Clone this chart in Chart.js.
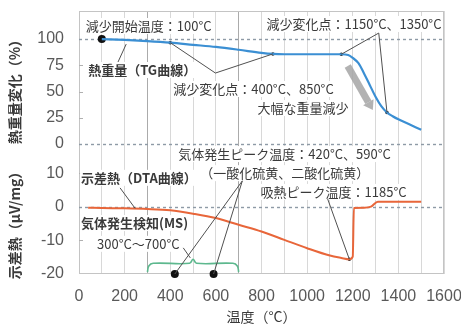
<!DOCTYPE html>
<html>
<head>
<meta charset="utf-8">
<script src="https://cdn.jsdelivr.net/npm/chart.js@4.4.1/dist/chart.umd.min.js"></script>
<style>
  html, body { margin: 0; padding: 0; background: #fff; }
  #wrap { width: 461px; height: 325px; }
</style>
</head>
<body>
<div id="wrap"><canvas id="c" width="461" height="325"></canvas></div>
<script>
const FONT = '"Noto Sans CJK JP", "Noto Sans", sans-serif';
const NUM_FONT = '"Liberation Sans", Arial, sans-serif';

// Thermogravimetry: weight change (%) vs temperature (°C)
const tgTemps  = [100, 200, 300, 400, 500, 600, 700, 800, 850, 900, 1000, 1100, 1150, 1180, 1200, 1225, 1250, 1275, 1300, 1325, 1350, 1375, 1400, 1450, 1500];
const tgValues = [100, 99.2, 98.0, 96.5, 94.5, 92.5, 89.8, 86.8, 85.8, 85.5, 85.5, 85.5, 85.5, 84.8, 82.0, 77.0, 67.0, 56.0, 45.0, 36.0, 30.0, 26.5, 23.5, 18.5, 13.5];

// Differential thermal analysis (µV/mg) vs temperature (°C)
const dtaTemps  = [40, 100, 200, 300, 400, 500, 600, 700, 800, 900, 1000, 1100, 1150, 1185, 1200, 1205, 1250, 1280, 1310, 1400, 1500];
const dtaValues = [-0.2, -0.3, -0.4, -0.6, -1.0, -2.0, -3.3, -5.3, -7.3, -9.8, -12.3, -14.5, -15.2, -15.6, -14.8, -0.3, -0.2, 0.1, 1.6, 1.6, 1.6];

// Gas detection range (MS) bracket, 300–700 °C, in DTA units
const msTemps  = [300, 306, 325, 485, 500, 515, 675, 694, 700];
const msValues = [-19.4, -17.6, -16.8, -16.8, -15.6, -16.8, -16.8, -17.6, -19.4];

// Marked temperatures
const onsetTemp = [100];
const tgChangeTemps = [400, 850, 1150, 1350];
const gasPeakTemps = [420, 590];
const gasPeakLevel = [-20, -20];
const endoPeakTemp = [1185];

// Axis ticks
const xTicks = [0, 200, 400, 600, 800, 1000, 1200, 1400, 1600];
const tgTicks = [0, 25, 50, 75, 100];
const dtaTicks = [-20, -10, 0, 10];

const tgAt = t => tgValues[tgTemps.indexOf(t)];
const dtaAt = t => dtaValues[dtaTemps.indexOf(t)];
const pts = (xs, ys) => xs.map((x, i) => ({ x, y: ys[i] }));

// Annotation labels, placed in data units of the given axis
const labels = [
  { axis: 'yTG',  x: 30,  y: 112.4, text: '減少開始温度：100°C' },
  { axis: 'yTG',  x: 40,  y: 70.5,  text: '熱重量（TG曲線）', bold: true },
  { axis: 'yTG',  x: 413, y: 52.4,  text: '減少変化点：400°C、850°C' },
  { axis: 'yTG',  x: 822, y: 114.3, text: '減少変化点：1150°C、1350°C' },
  { axis: 'yTG',  x: 782, y: 34.3,  text: '大幅な重量減少' },
  { axis: 'yDTA', x: 435, y: 15.8,  text: '気体発生ピーク温度：420°C、590°C' },
  { axis: 'yDTA', x: 532, y: 10.1,  text: '（一酸化硫黄、二酸化硫黄）' },
  { axis: 'yDTA', x: 796, y: 4.5,   text: '吸熱ピーク温度：1185°C' },
  { axis: 'yDTA', x: 9,   y: 8.7,   text: '示差熱（DTA曲線）', bold: true },
  { axis: 'yDTA', x: 9,   y: -4.8,  text: '気体発生検知(MS)', bold: true },
  { axis: 'yDTA', x: 79,  y: -11,   text: '300°C～700°C' }
];

// Leader lines: polyline in data units
const leaders = [
  { axis: 'yTG',  path: [[171, 78.1], [207, 95.2]] },
  { axis: 'yTG',  path: [[400, tgAt(400)], [598, 67.6], [850, tgAt(850)]] },
  { axis: 'yTG',  path: [[1150, tgAt(1150)], [1314, 105.7], [1350, tgAt(1350)]] },
  { axis: 'yDTA', path: [[gasPeakTemps[0], gasPeakLevel[0]], [716, 7.8], [gasPeakTemps[1], gasPeakLevel[1]]] },
  { axis: 'yDTA', path: [[1090, 2.4], [1185, dtaAt(1185)]] },
  { axis: 'yDTA', path: [[180, 5.7], [246, -0.4]] },
  { axis: 'yDTA', path: [[457, -12.2], [488, -15.2]] }
];

// Broad arrow marking the large weight loss
const lossArrow = { axis: 'yTG', from: [1178, 74.3], to: [1288, 32.4] };

function fontOf(l) { return (l.bold ? 'bold ' : '') + '13px ' + FONT; }

const annotate = {
  id: 'annotate',
  beforeDatasetsDraw(chart) {
    const { ctx, chartArea: a, scales } = chart;
    ctx.save();
    // plot frame
    ctx.strokeStyle = '#c4c4c4';
    ctx.lineWidth = 1;
    ctx.strokeRect(a.left + 0.5, a.top + 0.5, a.right - a.left - 1, a.bottom - a.top - 1);
    // dashed reference lines
    ctx.strokeStyle = '#8e9aa6';
    ctx.lineWidth = 1.4;
    ctx.setLineDash([3, 3]);
    [[scales.yTG, 100], [scales.yTG, 0], [scales.yDTA, 0]].forEach(([s, v]) => {
      const y = Math.round(s.getPixelForValue(v)) + 0.5;
      ctx.beginPath(); ctx.moveTo(a.left, y); ctx.lineTo(a.right, y); ctx.stroke();
    });
    ctx.setLineDash([]);
    // short tick marks on the left edge
    ctx.strokeStyle = '#b0b0b0';
    ctx.lineWidth = 1;
    [[scales.yTG, [25, 50, 75]], [scales.yDTA, [-10, 10]]].forEach(([s, vs]) => {
      vs.forEach(v => {
        const y = Math.round(s.getPixelForValue(v)) + 0.5;
        ctx.beginPath(); ctx.moveTo(a.left, y); ctx.lineTo(a.left + 4, y); ctx.stroke();
      });
    });
    // white backing behind labels
    ctx.fillStyle = '#fff';
    labels.forEach(l => {
      ctx.font = fontOf(l);
      const x = scales.x.getPixelForValue(l.x);
      const y = scales[l.axis].getPixelForValue(l.y);
      const w = ctx.measureText(l.text).width;
      ctx.fillRect(x - 1, y - 8, w + 2, 16);
    });
    ctx.restore();
  },
  afterDatasetsDraw(chart) {
    const { ctx, scales } = chart;
    const px = (axis, p) => [scales.x.getPixelForValue(p[0]), scales[axis].getPixelForValue(p[1])];
    ctx.save();
    // leader lines
    ctx.strokeStyle = '#505050';
    ctx.lineWidth = 1;
    leaders.forEach(ld => {
      ctx.beginPath();
      ld.path.forEach((p, i) => {
        const [x, y] = px(ld.axis, p);
        if (i === 0) ctx.moveTo(x, y); else ctx.lineTo(x, y);
      });
      ctx.stroke();
    });
    // broad grey arrow
    const [x0, y0] = px(lossArrow.axis, lossArrow.from);
    const [x1, y1] = px(lossArrow.axis, lossArrow.to);
    const ang = Math.atan2(y1 - y0, x1 - x0);
    const head = 9;
    const bx = x1 - head * Math.cos(ang), by = y1 - head * Math.sin(ang);
    ctx.strokeStyle = 'rgba(165,165,165,0.85)';
    ctx.lineWidth = 7;
    ctx.beginPath(); ctx.moveTo(x0, y0); ctx.lineTo(bx, by); ctx.stroke();
    ctx.fillStyle = 'rgba(165,165,165,0.85)';
    ctx.beginPath();
    ctx.moveTo(x1, y1);
    ctx.lineTo(bx + 6 * Math.sin(ang), by - 6 * Math.cos(ang));
    ctx.lineTo(bx - 6 * Math.sin(ang), by + 6 * Math.cos(ang));
    ctx.closePath(); ctx.fill();
    // label text
    ctx.fillStyle = '#3a3a3a';
    ctx.textBaseline = 'middle';
    ctx.textAlign = 'left';
    labels.forEach(l => {
      ctx.font = fontOf(l);
      const x = scales.x.getPixelForValue(l.x);
      const y = scales[l.axis].getPixelForValue(l.y);
      ctx.fillText(l.text, x, y);
    });
    ctx.restore();
  },
  afterDraw(chart) {
    const { ctx, chartArea: a, scales } = chart;
    ctx.save();
    // value labels for the two stacked y axes
    ctx.fillStyle = '#595959';
    ctx.font = '16px ' + NUM_FONT;
    ctx.textAlign = 'right';
    ctx.textBaseline = 'middle';
    [[scales.yTG, tgTicks], [scales.yDTA, dtaTicks]].forEach(([s, vs]) => {
      for (let i = 0; i < vs.length; i++) {
        ctx.fillText(String(vs[i]), a.left - 15, s.getPixelForValue(vs[i]));
      }
    });
    // axis titles
    ctx.fillStyle = '#3a3a3a';
    ctx.textAlign = 'center';
    ctx.font = 'bold 14px ' + FONT;
    const tgMid = (scales.yTG.getPixelForValue(100) + scales.yTG.getPixelForValue(0)) / 2 - 3;
    ctx.save(); ctx.translate(15, tgMid); ctx.rotate(-Math.PI / 2);
    ctx.fillText('熱重量変化（%）', 0, 0); ctx.restore();
    const dtaMid = (scales.yDTA.top + scales.yDTA.bottom) / 2 + 13;
    ctx.save(); ctx.translate(15, dtaMid); ctx.rotate(-Math.PI / 2);
    ctx.fillText('示差熱（μV/mg）', 0, 0); ctx.restore();
    ctx.font = '14px ' + FONT;
    ctx.fillText('温度（°C）', (a.left + a.right) / 2, 317);
    ctx.restore();
  }
};

const tickFont = { size: 16, family: NUM_FONT };

new Chart(document.getElementById('c'), {
  type: 'line',
  data: {
    datasets: [
      { label: 'TG', data: pts(tgTemps, tgValues), yAxisID: 'yTG', borderColor: '#3b8fd3', borderWidth: 2.2,
        pointRadius: 0, cubicInterpolationMode: 'monotone', fill: false },
      { label: 'DTA', data: pts(dtaTemps, dtaValues), yAxisID: 'yDTA', borderColor: '#e8663a', borderWidth: 2,
        pointRadius: 0, cubicInterpolationMode: 'monotone', fill: false },
      { label: 'MS', data: pts(msTemps, msValues), yAxisID: 'yDTA', borderColor: '#5db88e', borderWidth: 1.6,
        pointRadius: 0, tension: 0.4, fill: false },
      { label: 'onset', data: onsetTemp.map(t => ({ x: t, y: tgAt(t) })), yAxisID: 'yTG', showLine: false,
        pointRadius: 4, pointBackgroundColor: '#111', pointBorderWidth: 0, clip: false },
      { label: 'TG change', data: tgChangeTemps.map(t => ({ x: t, y: tgAt(t) })), yAxisID: 'yTG', showLine: false,
        pointRadius: 1.8, pointBackgroundColor: '#222', pointBorderWidth: 0 },
      { label: 'gas peaks', data: pts(gasPeakTemps, gasPeakLevel), yAxisID: 'yDTA', showLine: false,
        pointRadius: 4, pointBackgroundColor: '#111', pointBorderWidth: 0, clip: false },
      { label: 'endo peak', data: endoPeakTemp.map(t => ({ x: t, y: dtaAt(t) })), yAxisID: 'yDTA', showLine: false,
        pointRadius: 1.8, pointBackgroundColor: '#222', pointBorderWidth: 0 }
    ]
  },
  options: {
    responsive: false,
    animation: false,
    devicePixelRatio: 1,
    layout: { padding: { top: 11, right: 17, left: 0, bottom: 0 } },
    plugins: { legend: { display: false }, tooltip: { enabled: false } },
    scales: {
      x: {
        type: 'linear', min: 0, max: 1600,
        ticks: { stepSize: 100, autoSkip: false, maxRotation: 0, padding: 13, color: '#595959', font: tickFont,
                 callback: v => xTicks.includes(v) ? String(v) : '' },
        grid: { drawTicks: false, lineWidth: 1,
                color: c => (c.tick && (c.tick.value === 300 || c.tick.value === 700)) ? '#ababab' : '#d8d8d8' },
        border: { display: false },
        afterFit: s => { s.height = 51; s.paddingLeft = 0; s.paddingRight = 0; }
      },
      // lower panel (listed first: stacked left axes are laid out bottom-up)
      yDTA: {
        type: 'linear', position: 'left', stack: 'y', stackWeight: 130, min: -20, max: 18.8,
        ticks: { display: false },
        grid: { display: false, drawTicks: false },
        border: { display: false },
        afterFit: s => { s.width = 79; s.paddingTop = 0; s.paddingBottom = 0; }
      },
      yTG: {
        type: 'linear', position: 'left', stack: 'y', stackWeight: 133, min: 0, max: 126.7,
        ticks: { display: false },
        grid: { display: false, drawTicks: false },
        border: { display: false },
        afterFit: s => { s.width = 79; s.paddingTop = 0; s.paddingBottom = 0; }
      }
    }
  },
  plugins: [annotate]
});
</script>
</body>
</html>
